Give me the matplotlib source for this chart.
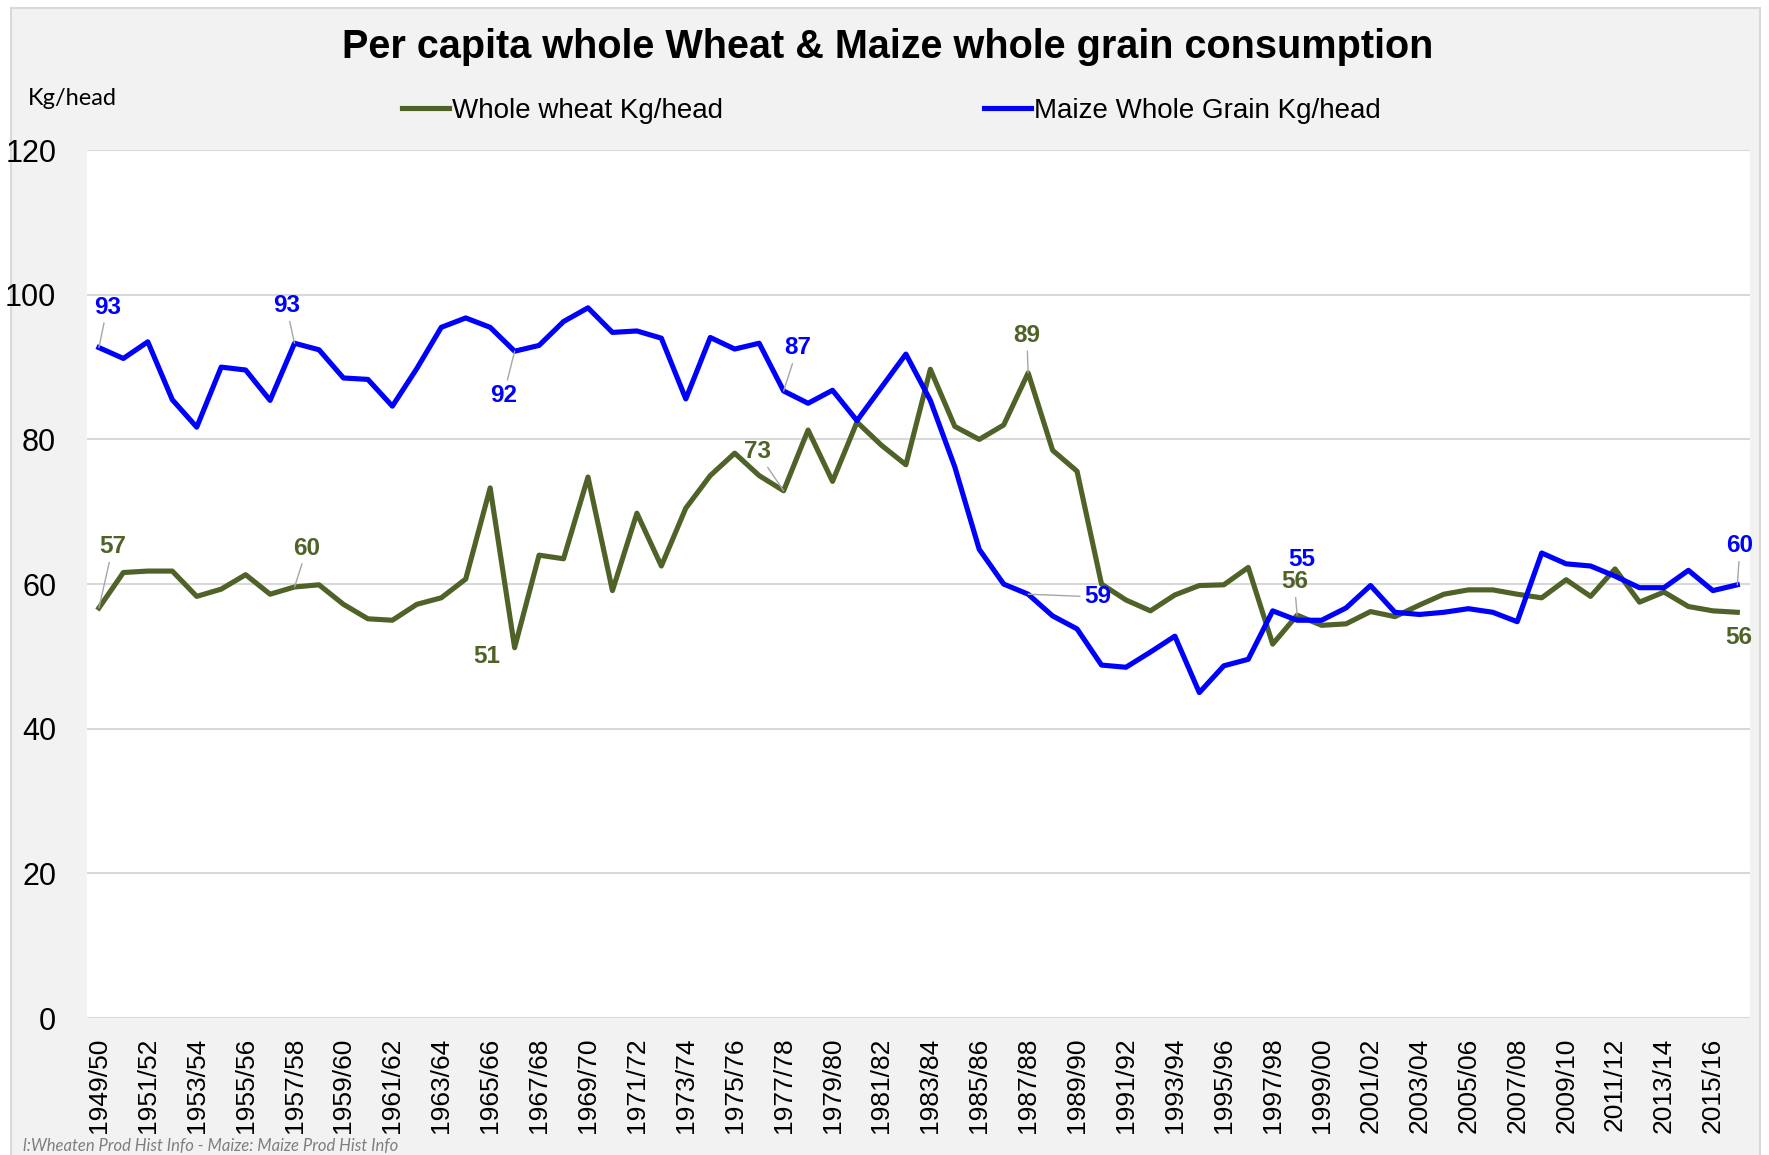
import numpy as np
import matplotlib.pyplot as plt
from matplotlib.patches import Rectangle

# seasons 1949/50 .. 2016/17
years = [f"{y}/{str(y + 1)[-2:]}" for y in range(1949, 2017)]

wheat = [56.7, 61.6, 61.8, 61.8, 58.3, 59.3, 61.3, 58.6, 59.6, 59.9,
         57.2, 55.2, 55.0, 57.2, 58.1, 60.7, 73.3, 51.2, 64.0, 63.5,
         74.8, 59.1, 69.8, 62.5, 70.5, 75.0, 78.1, 75.0, 72.9, 81.3,
         74.2, 82.4, 79.2, 76.5, 89.7, 81.8, 80.0, 82.0, 89.2, 78.5,
         75.6, 60.0, 57.8, 56.3, 58.5, 59.8, 59.9, 62.3, 51.7, 55.7,
         54.3, 54.5, 56.2, 55.5, 57.1, 58.6, 59.2, 59.2, 58.6, 58.1,
         60.6, 58.3, 62.1, 57.5, 58.9, 56.9, 56.3, 56.1]

maize = [92.7, 91.2, 93.5, 85.5, 81.7, 90.0, 89.6, 85.4, 93.3, 92.4,
         88.5, 88.3, 84.6, 89.8, 95.5, 96.8, 95.5, 92.2, 93.0, 96.3,
         98.2, 94.8, 95.0, 94.0, 85.6, 94.1, 92.5, 93.3, 86.7, 85.0,
         86.8, 82.6, 87.2, 91.8, 85.4, 76.2, 64.8, 60.0, 58.6, 55.6,
         53.8, 48.8, 48.5, 50.6, 52.8, 45.0, 48.7, 49.6, 56.3, 55.0,
         55.0, 56.7, 59.8, 56.1, 55.8, 56.1, 56.6, 56.1, 54.8, 64.3,
         62.8, 62.5, 61.1, 59.5, 59.5, 61.9, 59.1, 59.9]

# labelled points: index, offset (points), leader line?
wheat_labels = [(0, (10, 44), True), (8, (9, 28), True), (17, (-20, -6), False),
                (28, (-19, 28), True), (38, (-1, 27), True), (49, (-2, 24), True),
                (67, (1, -18), False)]
maize_labels = [(0, (6, 29), True), (8, (-6, 27), True), (17, (-8, -32), True),
                (28, (10, 31), True), (38, (50, -2), True), (49, (3, 44), False),
                (67, (2, 28), True)]

wheat_col = '#4f6228'
maize_col = '#0000ff'
sans = ['Liberation Sans', 'DejaVu Sans']

fig = plt.figure(figsize=(17.69, 11.55), dpi=100, facecolor='white')
fig.patches.append(Rectangle((0.006, -0.01), 0.989, 1.003, transform=fig.transFigure,
                             facecolor='#f2f2f2', edgecolor='#d9d9d9', lw=1.5, zorder=-10))

ax = fig.add_axes([0.049, 0.1186, 0.940, 0.7514])
ax.set_facecolor('white')
x = np.arange(len(years))
ax.plot(x, wheat, color=wheat_col, lw=3.7, label='Whole wheat Kg/head', zorder=3)
ax.plot(x, maize, color=maize_col, lw=3.7, label='Maize Whole Grain Kg/head', zorder=3)

ax.set_xlim(-0.5, len(years) - 0.5)
ax.set_ylim(0, 120)
ax.set_yticks(range(0, 121, 20))
ax.set_yticklabels([str(v) for v in range(0, 121, 20)], family=sans, fontsize=22)
ax.set_xticks(x[::2])
ax.set_xticklabels(years[::2], rotation=90, fontsize=19, family=sans)
ax.tick_params(axis='both', length=0)
ax.tick_params(axis='y', pad=22)
ax.tick_params(axis='x', pad=14)
ax.grid(axis='y', color='#d9d9d9', lw=1.5)
ax.set_axisbelow(True)
for s in ax.spines.values():
    s.set_visible(False)


def add_labels(series, labels, col):
    for i, off, leader in labels:
        ap = dict(arrowstyle='-', color='#a6a6a6', lw=1, shrinkA=1, shrinkB=0) if leader else None
        ax.annotate(f"{series[i]:.0f}", xy=(x[i], series[i]), xytext=off,
                    textcoords='offset points', ha='center', va='center',
                    color=col, fontsize=17.5, fontweight='bold', family=sans,
                    arrowprops=ap, zorder=4)


add_labels(wheat, wheat_labels, wheat_col)
add_labels(maize, maize_labels, maize_col)

fig.text(0.502, 0.959, 'Per capita whole Wheat & Maize whole grain consumption',
         ha='center', va='center', fontsize=28.5, fontweight='bold', family=sans)
fig.text(0.016, 0.915, 'Kg/head', ha='left', va='center', fontsize=17, family='Lato')
fig.legend(loc='center', bbox_to_anchor=(0.504, 0.904), ncol=2, frameon=False,
           prop={'family': sans, 'size': 20}, handlelength=1.7, handletextpad=0.1,
           columnspacing=9.4)
fig.text(0.013, 0.001, 'l:Wheaten Prod Hist Info - Maize: Maize Prod Hist Info',
         ha='left', va='bottom', fontsize=12, style='italic', color='#7f7f7f', family='Lato')

fig.savefig('out.png', dpi=100, facecolor=fig.get_facecolor())
